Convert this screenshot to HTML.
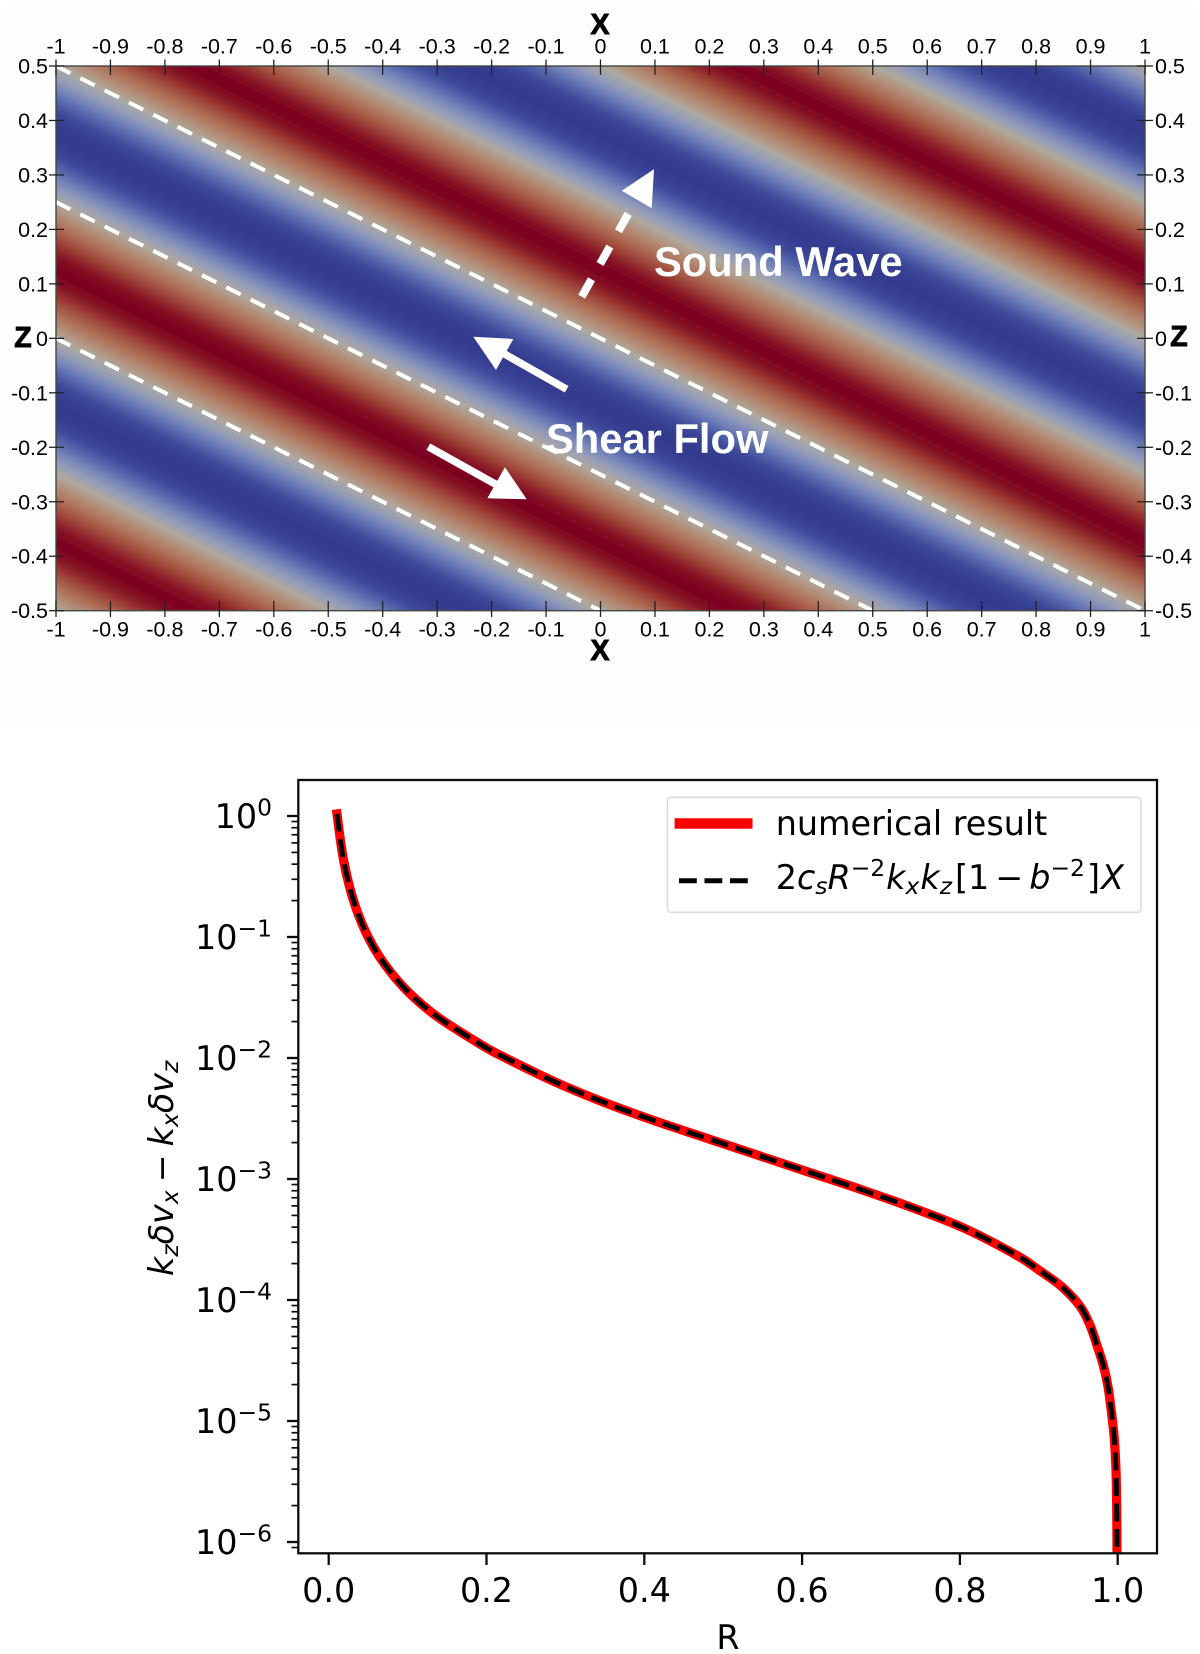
<!DOCTYPE html>
<html lang="en">
<head>
<meta charset="utf-8">
<title>Shear flow and sound wave field with vorticity profile</title>
<style>
html,body{margin:0;padding:0;background:#fff;}
svg{display:block;}
.pv{font-family:"Liberation Sans",Arial,sans-serif;font-size:21.5px;fill:#000;}
.pvb{font-family:"Liberation Sans",Arial,sans-serif;font-size:28.5px;font-weight:700;fill:#000;stroke:#000;stroke-width:0.9px;}
.note{font-family:"Liberation Sans",Arial,sans-serif;font-size:41.7px;font-weight:700;fill:#fff;}
.mp{font-family:"DejaVu Sans",sans-serif;font-size:33.4px;fill:#000;}
.it{font-style:italic;}
</style>
</head>
<body>
<svg id="figure" xmlns="http://www.w3.org/2000/svg" width="1200" height="1654" viewBox="0 0 1200 1654">
  <defs>
    <linearGradient id="wave-gradient" gradientUnits="userSpaceOnUse" spreadMethod="repeat"></linearGradient>
    <clipPath id="heat-clip"><rect x="56" y="66" width="1089" height="544.7"></rect></clipPath>
    <clipPath id="axes-clip"><rect x="298.3" y="780" width="858.7" height="773.3"></rect></clipPath>
    <filter id="soft" x="-2%" y="-2%" width="104%" height="104%"><feGaussianBlur stdDeviation="0.3"></feGaussianBlur></filter>
    <filter id="soft2" x="-2%" y="-2%" width="104%" height="104%"><feGaussianBlur stdDeviation="0.3"></feGaussianBlur></filter>
  </defs>
  <rect width="1200" height="1654" fill="#ffffff"></rect>

  <g id="top-panel" filter="url(#soft)">
    <rect x="4" y="4" width="1191" height="723" fill="#fcfffc"></rect>
    <rect id="heat-field" x="56" y="66" width="1089" height="544.7" fill="url(#wave-gradient)"></rect>
    <g id="shear-lines" clip-path="url(#heat-clip)"></g>
    <rect x="56" y="66" width="1089" height="544.7" fill="none" stroke="#444" stroke-width="1.4"></rect>
    <g id="top-ticks"></g>
    <text class="pvb" x="600" y="34" text-anchor="middle">X</text>
    <text class="pvb" x="600" y="660" text-anchor="middle">X</text>
    <text class="pvb" x="23" y="347" text-anchor="middle">Z</text>
    <text class="pvb" x="1179" y="346" text-anchor="middle">Z</text>

    <g>
      <line x1="581.7" y1="296.7" x2="630" y2="210.7" stroke="#fff" stroke-width="8" stroke-dasharray="20 17.5"></line>
      <polygon points="654,169.3 621.7,190.7 651.7,208.3" fill="#fff"></polygon>
    </g>
    <g>
      <line x1="566.7" y1="389.3" x2="503.3" y2="353.3" stroke="#fff" stroke-width="7.5"></line>
      <polygon points="473.3,336.7 513.3,339 496,370" fill="#fff"></polygon>
    </g>
    <g>
      <line x1="428.3" y1="446.7" x2="500" y2="486.7" stroke="#fff" stroke-width="7.5"></line>
      <polygon points="505,467.3 526.7,499.3 487.3,498.3" fill="#fff"></polygon>
    </g>
    <text class="note" x="654" y="276">Sound Wave</text>
    <text class="note" x="546" y="453">Shear Flow</text>
  </g>

  <g id="bottom-panel" filter="url(#soft2)">
    <g id="profile-curves" clip-path="url(#axes-clip)"></g>
    <rect x="298.3" y="780" width="858.7" height="773.3" fill="none" stroke="#111" stroke-width="2.3"></rect>
    <g id="bottom-ticks"></g>
    <text class="mp" x="728" y="1649" text-anchor="middle">R</text>
    <text class="mp" transform="translate(173 1276) rotate(-90)"><tspan class="it">k</tspan><tspan class="it" font-size="23.4" dy="5">z</tspan><tspan class="it" dy="-5">δv</tspan><tspan class="it" font-size="23.4" dy="5">x</tspan><tspan dy="-5" dx="8">−</tspan><tspan class="it" dx="8">k</tspan><tspan class="it" font-size="23.4" dy="5">x</tspan><tspan class="it" dy="-5">δv</tspan><tspan class="it" font-size="23.4" dy="5">z</tspan></text>

    <g>
      <rect x="667.5" y="797.3" width="473.5" height="115" rx="3.5" fill="#fff" fill-opacity="0.9" stroke="#dcdcdc" stroke-width="1.6"></rect>
      <line x1="674.6" y1="823.5" x2="752.5" y2="823.5" stroke="#ff0000" stroke-width="10.5"></line>
      <line x1="679" y1="880.7" x2="748" y2="880.7" stroke="#000" stroke-width="5" stroke-dasharray="17.8 7.7"></line>
      <text class="mp" x="775.7" y="835">numerical result</text>
      <text class="mp" x="775.7" y="889">2<tspan class="it">c</tspan><tspan class="it" font-size="23.4" dy="5">s</tspan><tspan class="it" dy="-5">R</tspan><tspan font-size="23.4" dy="-13">−2</tspan><tspan class="it" dy="13" dx="1">k</tspan><tspan class="it" font-size="23.4" dy="5">x</tspan><tspan class="it" dy="-5" dx="1">k</tspan><tspan class="it" font-size="23.4" dy="5">z</tspan><tspan dy="-5" dx="3">[1</tspan><tspan dx="6">−</tspan><tspan class="it" dx="6">b</tspan><tspan font-size="23.4" dy="-13">−2</tspan><tspan dy="13" dx="2">]</tspan><tspan class="it" dx="1">X</tspan></text>
    </g>
  </g>
</svg>
<script>
// ---------- wave panel data ----------
var topXTicks = [-1, -0.9, -0.8, -0.7, -0.6, -0.5, -0.4, -0.3, -0.2, -0.1, 0, 0.1, 0.2, 0.3, 0.4, 0.5, 0.6, 0.7, 0.8, 0.9, 1];
var topZTicks = [0.5, 0.4, 0.3, 0.2, 0.1, 0, -0.1, -0.2, -0.3, -0.4, -0.5];
var fieldProfile = [0, 0.18, 0.36, 0.54, 0.72, 0.92, 1, 0.92, 0.72, 0.54, 0.36, 0.18, 0, -0.18, -0.36, -0.54, -0.72, -0.92, -1, -0.92, -0.72, -0.54, -0.36, -0.18, 0];
var colorLevels = [-1, -0.75, -0.5, -0.25, 0, 0.25, 0.5, 0.75, 1];
var colorValues = ['#343a8e', '#3a4597', '#5a6cb0', '#8c99c2', '#aea99e', '#b5846a', '#a85c45', '#90252a', '#7c0020'];
// wave phase reference: one crest-to-crest step in data units
var waveOriginX = [-1];
var waveOriginZ = [0.5];
var waveStepX = [0.2];
var waveStepZ = [0.4];
// dashed shear lines: endpoints in data units
var shearStartX = [-1, -1, -1];
var shearStartZ = [0.5, 0.25, 0];
var shearEndX = [1, 0.5, 0];
var shearEndZ = [-0.5, -0.5, -0.5];

// ---------- profile panel data ----------
var xTickValues = [0, 0.2, 0.4, 0.6, 0.8, 1];
var xTickLabels = ['0.0', '0.2', '0.4', '0.6', '0.8', '1.0'];
var yTickExponents = [0, -1, -2, -3, -4, -5, -6];
var yMinorFactors = [2, 3, 4, 5, 6, 7, 8, 9];
var curveR = [0.0105, 0.0185, 0.0312, 0.048, 0.0692, 0.0989, 0.1369, 0.1918, 0.2173, 0.2826, 0.348, 0.4136, 0.479, 0.5445, 0.61, 0.6754, 0.741, 0.8065, 0.8719, 0.9016, 0.929, 0.9522, 0.9649, 0.974, 0.9818, 0.9878, 0.9925, 0.9957, 0.9978, 0.9987, 0.9991];
var curveValues = [1.04, 0.4436, 0.2023, 0.1062, 0.0617, 0.0361, 0.0221, 0.01303, 0.01054, 0.00653, 0.004325, 0.00302, 0.002173, 0.001567, 0.00113, 0.000815, 0.000575, 0.000389, 0.000234, 0.000174, 0.000129, 0.000089, 0.000062, 0.0000417, 0.0000288, 0.0000191, 0.0000112, 0.0000071, 0.000004, 0.000002, 0.00000085];

// ---------- scales ----------
function heatX(v) { return 56 + (v + 1) * 544.5; }
function heatZ(v) { return 338.35 - v * 544.7; }
function plotX(v) { return 328.7 + v * 789; }
function plotY(v) { return 816 - Math.log(v) / Math.LN10 * 121; }

var NS = 'http://www.w3.org/2000/svg';
function mk(tag, parent) {
  var el = document.createElementNS(NS, tag);
  parent.appendChild(el);
  return el;
}
function hexRgb(h) {
  return [parseInt(h.substr(1, 2), 16), parseInt(h.substr(3, 2), 16), parseInt(h.substr(5, 2), 16)];
}
function colorFor(v) {
  var i = 0;
  while (i < colorLevels.length - 2 && v > colorLevels[i + 1]) i++;
  var t = (v - colorLevels[i]) / (colorLevels[i + 1] - colorLevels[i]);
  var a = hexRgb(colorValues[i]), b = hexRgb(colorValues[i + 1]);
  return 'rgb(' + Math.round(a[0] + (b[0] - a[0]) * t) + ',' + Math.round(a[1] + (b[1] - a[1]) * t) + ',' + Math.round(a[2] + (b[2] - a[2]) * t) + ')';
}

// ---------- heatmap ----------
var grad = document.getElementById('wave-gradient');
grad.setAttribute('x1', heatX(waveOriginX[0]));
grad.setAttribute('y1', heatZ(waveOriginZ[0]));
grad.setAttribute('x2', heatX(waveOriginX[0] + waveStepX[0]));
grad.setAttribute('y2', heatZ(waveOriginZ[0] + waveStepZ[0]));
fieldProfile.forEach(function (v, i) {
  var stop = mk('stop', grad);
  stop.setAttribute('offset', i / (fieldProfile.length - 1));
  stop.setAttribute('stop-color', colorFor(v));
});

// ---------- dashed shear lines ----------
var shearGroup = document.getElementById('shear-lines');
shearStartX.forEach(function (sx, i) {
  var ln = mk('line', shearGroup);
  
  
  ln.setAttribute('x1', heatX(sx));
  ln.setAttribute('y1', heatZ(shearStartZ[i]));
  ln.setAttribute('x2', heatX(shearEndX[i]));
  ln.setAttribute('y2', heatZ(shearEndZ[i]));
  ln.setAttribute('stroke', '#ffffff');
  ln.setAttribute('stroke-width', '4');
  ln.setAttribute('stroke-dasharray', '16 11.2');
});

// ---------- wave axes ----------
var topGroup = document.getElementById('top-ticks');
function tickLine(parent, x1, y1, x2, y2, color, width) {
  var t = mk('line', parent);
  t.setAttribute('x1', x1);
  t.setAttribute('y1', y1);
  t.setAttribute('x2', x2);
  t.setAttribute('y2', y2);
  t.setAttribute('stroke', color);
  t.setAttribute('stroke-width', width);
  return t;
}
function labelText(parent, cls, x, y, anchor, str) {
  var t = mk('text', parent);
  t.setAttribute('class', cls);
  t.setAttribute('x', x);
  t.setAttribute('y', y);
  t.setAttribute('text-anchor', anchor);
  t.textContent = str;
  return t;
}
topXTicks.forEach(function (v) {
  var px = heatX(v);
  var a = tickLine(topGroup, px, 59.5, px, 75, '#222', 1.3);
  
  
  var b = tickLine(topGroup, px, 601, px, 617, '#222', 1.3);
  
  
  var c = labelText(topGroup, 'pv', px, 53.5, 'middle', String(v));
  
  
  var d = labelText(topGroup, 'pv', px, 636.7, 'middle', String(v));
  
  
});
topZTicks.forEach(function (v) {
  var py = heatZ(v);
  var a = tickLine(topGroup, 49, py, 64, py, '#222', 1.3);
  
  
  var b = tickLine(topGroup, 1137, py, 1153, py, '#222', 1.3);
  
  
  var c = labelText(topGroup, 'pv', 48, py + 7.5, 'end', String(v));
  
  
  var d = labelText(topGroup, 'pv', 1155, py + 7.5, 'start', String(v));
  
  
});

// ---------- profile axes ----------
var botGroup = document.getElementById('bottom-ticks');
xTickValues.forEach(function (v, i) {
  var px = plotX(v);
  var t = tickLine(botGroup, px, 1553.3, px, 1565, '#111', 2.3);
  
  
  var l = labelText(botGroup, 'mp', px, 1602, 'middle', xTickLabels[i]);
  
  
});
yTickExponents.forEach(function (e) {
  var py = plotY(Math.pow(10, e));
  var t = tickLine(botGroup, 287, py, 298.3, py, '#111', 2.3);
  
  
  var l = labelText(botGroup, 'mp', 272, py + 12, 'end', '10');
  
  
  var s = mk('tspan', l);
  s.setAttribute('font-size', '23.4');
  s.setAttribute('dy', '-12.5');
  s.textContent = e === 0 ? '0' : '\u2212' + Math.abs(e);
  yMinorFactors.forEach(function (f) {
    var val = f * Math.pow(10, e - 1);
    var my = plotY(val);
    if (my < 780 || my > 1553) return;
    var m = tickLine(botGroup, 291.5, my, 298.3, my, '#111', 1.7);
    
    
  });
});

// ---------- curves ----------
function smoothPath(xs, ys) {
  var d = 'M' + xs[0].toFixed(2) + ' ' + ys[0].toFixed(2);
  for (var i = 0; i < xs.length - 1; i++) {
    var p0 = Math.max(i - 1, 0), p3 = Math.min(i + 2, xs.length - 1);
    var c1x = xs[i] + (xs[i + 1] - xs[p0]) / 6, c1y = ys[i] + (ys[i + 1] - ys[p0]) / 6;
    var c2x = xs[i + 1] - (xs[p3] - xs[i]) / 6, c2y = ys[i + 1] - (ys[p3] - ys[i]) / 6;
    d += 'C' + c1x.toFixed(2) + ' ' + c1y.toFixed(2) + ' ' + c2x.toFixed(2) + ' ' + c2y.toFixed(2) + ' ' + xs[i + 1].toFixed(2) + ' ' + ys[i + 1].toFixed(2);
  }
  return d;
}
var curvePath = smoothPath(curveR.map(plotX), curveValues.map(plotY));
var curveGroup = document.getElementById('profile-curves');
var redCurve = mk('path', curveGroup);


redCurve.setAttribute('d', curvePath);
redCurve.setAttribute('fill', 'none');
redCurve.setAttribute('stroke', '#ff0000');
redCurve.setAttribute('stroke-width', '9.2');
redCurve.setAttribute('stroke-linecap', 'square');
var blackCurve = mk('path', curveGroup);


blackCurve.setAttribute('d', curvePath);
blackCurve.setAttribute('fill', 'none');
blackCurve.setAttribute('stroke', '#000000');
blackCurve.setAttribute('stroke-width', '4.8');
blackCurve.setAttribute('stroke-dasharray', '17.8 7.7');
</script>
</body>
</html>
